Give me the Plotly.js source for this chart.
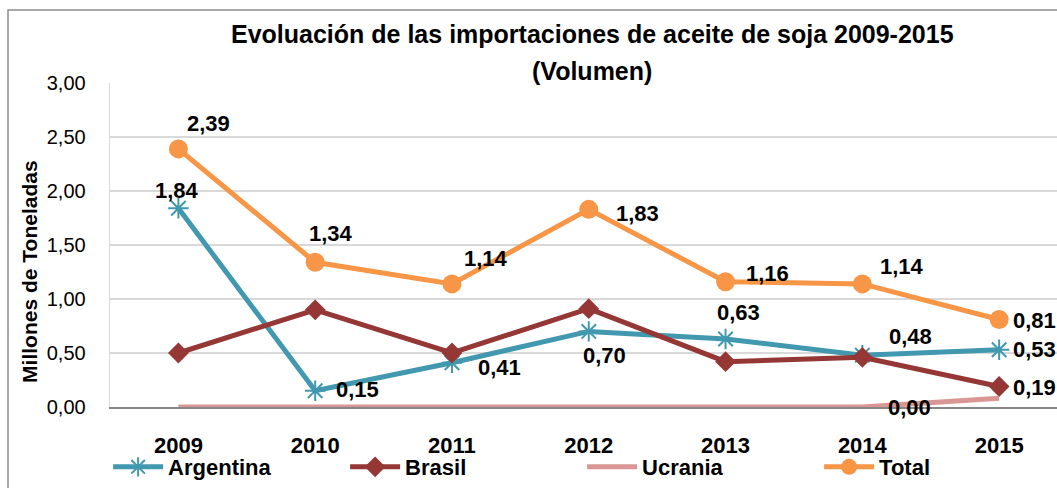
<!DOCTYPE html>
<html>
<head>
<meta charset="utf-8">
<script src="https://cdn.plot.ly/plotly-3.0.1.min.js"></script>
<style>
html,body{margin:0;padding:0;background:#fff;}
#chart{width:1057px;height:488px;}
</style>
</head>
<body>
<div id="chart"></div>
<script>
// ---- data ----
const years = ['2009','2010','2011','2012','2013','2014','2015'];
const argentina = [1.84, 0.15, 0.41, 0.70, 0.63, 0.48, 0.53];
const brasil    = [0.50, 0.90, 0.50, 0.91, 0.42, 0.46, 0.19];
const ucrania   = [0.00, 0.00, 0.00, 0.00, 0.00, 0.00, 0.08];
const total     = [2.39, 1.34, 1.14, 1.83, 1.16, 1.14, 0.81];
const yTicks    = [0, 0.5, 1, 1.5, 2, 2.5, 3];

// ---- label placement (pixel offsets from each point; null = no label) ----
const totalLabelOff = [[30,-25],[16,-29],[34,-25],[49,4],[42,-8],[40,-17],[35,1]];
const argLabelOff   = [[-1,-18],[42,-1],[48,5],[16,24],[13,-26],[48,-19],[35,0]];
const braLabelOff   = [null,null,null,null,null,null,[35,1]];
const ucrLabelOff   = [null,null,null,null,null,[47,0],null];

const FONT = '"Liberation Sans", Arial, sans-serif';
const C_ARG = '#4198AF', C_BRA = '#953735', C_UCR = '#D99694', C_TOT = '#F79646';

const fmt = v => v.toFixed(2).replace('.', ',');

const traces = [
  {name:'<b>Argentina</b>', x:years, y:argentina, type:'scatter', mode:'lines+markers',
   line:{color:C_ARG, width:5},
   marker:{symbol:'asterisk-open', size:17, line:{color:C_ARG, width:2}, color:C_ARG}},
  {name:'<b>Brasil</b>', x:years, y:brasil, type:'scatter', mode:'lines+markers',
   line:{color:C_BRA, width:5},
   marker:{symbol:'diamond', size:16, color:C_BRA}},
  {name:'<b>Ucrania</b>', x:years, y:ucrania, type:'scatter', mode:'lines',
   line:{color:C_UCR, width:5}},
  {name:'<b>Total</b>', x:years, y:total, type:'scatter', mode:'lines+markers',
   line:{color:C_TOT, width:5},
   marker:{symbol:'circle', size:19, color:C_TOT}}
];

const annotations = [];
function addLabels(vals, offs){
  vals.forEach((v,i)=>{
    const o = offs[i];
    if(!o) return;
    annotations.push({x:i, y:v, xref:'x', yref:'y', text:'<b>'+fmt(v)+'</b>', showarrow:false,
      xshift:o[0], yshift:-o[1], font:{family:FONT, size:22, color:'#000'}});
  });
}
addLabels(total, totalLabelOff);
addLabels(argentina, argLabelOff);
addLabels(brasil, braLabelOff);
addLabels(ucrania, ucrLabelOff);

// titles
annotations.push({xref:'paper', yref:'paper', x:0.509, y:1.151, yanchor:'middle', showarrow:false,
  text:'<b>Evoluación de las importaciones de aceite de soja 2009-2015</b>',
  font:{family:FONT, size:25, color:'#000'}});
annotations.push({xref:'paper', yref:'paper', x:0.509, y:1.036, yanchor:'middle', showarrow:false,
  text:'<b>(Volumen)</b>', font:{family:FONT, size:25, color:'#000'}});
annotations.push({xref:'paper', yref:'paper', x:-0.0845, y:0.42, xanchor:'center', yanchor:'middle',
  showarrow:false, textangle:-90, text:'<b>Millones de Toneladas</b>',
  font:{family:FONT, size:21, color:'#000'}});

const layout = {
  width:1057, height:488,
  margin:{l:110, r:0, t:83, b:81, pad:0},
  paper_bgcolor:'#fff', plot_bgcolor:'#fff',
  separators:',.',
  font:{family:FONT, color:'#000'},
  showlegend:true,
  legend:{orientation:'h', x:-0.002, xanchor:'left', y:-0.186, yanchor:'middle',
    entrywidth:172, entrywidthmode:'pixels', traceorder:'normal',
    bgcolor:'rgba(0,0,0,0)',
    font:{family:FONT, size:22, color:'#000'}, itemwidth:50},
  xaxis:{type:'category', range:[-0.5, 6.423], showgrid:false, zeroline:false,
    showline:true, linecolor:'#868686', linewidth:1.5,
    ticks:'outside', ticklen:18, tickcolor:'rgba(0,0,0,0)',
    tickvals:years, ticktext:years.map(y=>'<b>'+y+'</b>'),
    tickfont:{family:FONT, size:22, color:'#000'}, fixedrange:true},
  yaxis:{range:[0,3], tickvals:yTicks, tickformat:'.2f', showgrid:true, gridcolor:'#d9d9d9',
    gridwidth:1.3, zeroline:false, showline:true, linecolor:'#d9d9d9', linewidth:1.3,
    ticks:'outside', ticklen:19, tickcolor:'rgba(0,0,0,0)',
    tickfont:{family:FONT, size:20, color:'#000'}, fixedrange:true},
  annotations:annotations,
  shapes:[{type:'rect', xref:'paper', yref:'paper', x0:-0.1077, x1:1.05, y0:-0.3, y1:1.2253,
    line:{color:'#8c8c8c', width:1.5}, fillcolor:'rgba(0,0,0,0)', layer:'above'}]
};

Plotly.newPlot('chart', traces, layout, {displayModeBar:false, staticPlot:true});
</script>
</body>
</html>
